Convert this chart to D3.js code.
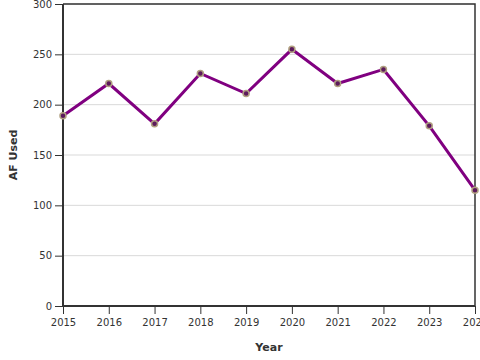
<!DOCTYPE html>
<html><head><meta charset="utf-8">
<script src="https://cdn.jsdelivr.net/npm/d3@7"></script>
<style>body{margin:0;background:#fff;font-family:"DejaVu Sans",sans-serif;}</style>
</head><body><svg id="c" width="480" height="360"></svg>
<script>
const years = [2015,2016,2017,2018,2019,2020,2021,2022,2023,2024];
const afUsed = [189,221,181,231,211,255,221,235,179,115];
const yTicks = [0,50,100,150,200,250,300];
const yLabel = "AF Used";
const xLabel = "Year";

const svg = d3.select("#c");
const m = {l:63, r:5, t:4, b:54};
const W = 480, H = 360;
const x = d3.scaleLinear().domain([2015,2024]).range([m.l, W-m.r]);
const y = d3.scaleLinear().domain([0,300]).range([H-m.b, m.t]);

// gridlines
svg.append("g").selectAll("line").data(yTicks.slice(1)).join("line")
  .attr("x1", m.l).attr("x2", W-m.r)
  .attr("y1", d=>y(d)).attr("y2", d=>y(d))
  .attr("stroke","#d9d9d9").attr("stroke-width",1);

// frame top/right
svg.append("path").attr("d",`M${m.l},${m.t}H${W-m.r}V${H-m.b}`)
  .attr("fill","none").attr("stroke","#333").attr("stroke-width",1.5);

const xAxis = svg.append("g").attr("transform",`translate(0,${H-m.b})`)
  .call(d3.axisBottom(x).tickValues(years).tickFormat(d3.format("d")).tickSize(8).tickPadding(5));
const yAxis = svg.append("g").attr("transform",`translate(${m.l},0)`)
  .call(d3.axisLeft(y).tickValues(yTicks).tickSize(8).tickPadding(3));
[xAxis,yAxis].forEach(a=>{
  a.select(".domain").attr("stroke","#333").attr("stroke-width",2);
  a.selectAll(".tick line").attr("stroke","#333");
  a.selectAll("text").attr("fill","#333").style("font-family","DejaVu Sans").style("font-size","10px");
});
yAxis.select(".domain").attr("d",`M0,${H-m.b}V${m.t}`);
xAxis.select(".domain").attr("d",`M${m.l},0H${W-m.r}`);

// line
const pts = years.map((yr,i)=>({yr, v:afUsed[i]}));
svg.append("path").datum(pts)
  .attr("d", d3.line().x(d=>x(d.yr)).y(d=>y(d.v)))
  .attr("fill","none").attr("stroke","#800080").attr("stroke-width",3);

svg.append("g").selectAll("circle").data(pts).join("circle")
  .attr("cx",d=>x(d.yr)).attr("cy",d=>y(d.v)).attr("r",3)
  .attr("fill","#5c1a5c").attr("stroke","#b0a080").attr("stroke-width",1.5);

svg.append("text").attr("x",(m.l+W-m.r)/2).attr("y",351)
  .attr("text-anchor","middle").style("font-size","11px").style("font-weight","bold")
  .attr("fill","#333").text(xLabel);
svg.append("text").attr("transform",`translate(17,${(m.t+H-m.b)/2}) rotate(-90)`)
  .attr("text-anchor","middle").style("font-size","11px").style("font-weight","bold")
  .attr("fill","#333").text(yLabel);
</script></body></html>
